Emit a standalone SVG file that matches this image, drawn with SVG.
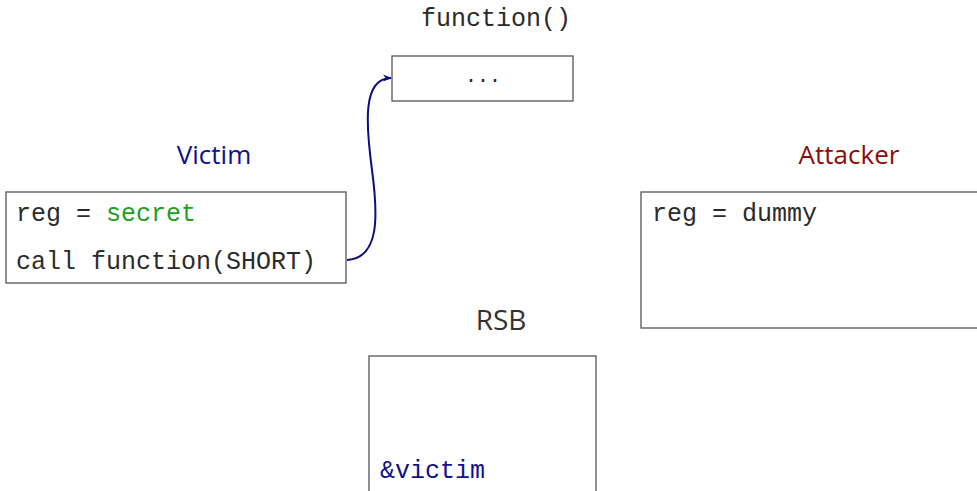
<svg xmlns="http://www.w3.org/2000/svg" width="977" height="491" viewBox="0 0 977 491">
<defs>
<style>
.box{fill:#fff;stroke:#555;stroke-width:1.3}
.mono{font-family:"Liberation Mono","DejaVu Sans Mono",monospace;font-size:25px;fill:#2b2b2b}
.navy{fill:#10108c}
.green{fill:#1f9e1f}
.sans{font-family:"Open Sans","DejaVu Sans",sans-serif;font-size:26px;text-anchor:middle}
.conn{fill:none;stroke:#0d0d80;stroke-width:2}
</style>
<marker id="arr" viewBox="0 0 10 10" refX="9" refY="5" markerWidth="9" markerHeight="9" orient="auto" markerUnits="userSpaceOnUse">
<path d="M0,1 L10,5 L0,9 L3,5 Z" fill="#0d0d80"/>
</marker>
</defs>
<rect width="977" height="491" fill="#fff"/>
<g id="function">
<text class="mono" x="496" y="26" text-anchor="middle">function()</text>
<rect class="box" x="392" y="56" width="181" height="45"/>
<text class="mono" x="483" y="82" text-anchor="middle" style="font-size:20px">...</text>
</g>
<g id="victim">
<text class="sans navy" x="214" y="164">Victim</text>
<rect class="box" x="6" y="192" width="340" height="91"/>
<text class="mono" x="16" y="221">reg = <tspan class="green">secret</tspan></text>
<text class="mono" x="16" y="269">call function(SHORT)</text>
</g>
<g id="attacker">
<text class="sans" x="849" y="164" style="fill:#8b0b0b">Attacker</text>
<rect class="box" x="641" y="192" width="345" height="136"/>
<text class="mono" x="652" y="221">reg = dummy</text>
</g>
<g id="rsb">
<text class="sans" x="501" y="330" style="fill:#333;font-size:28px">RSB</text>
<rect class="box" x="369" y="356" width="227" height="150"/>
<text class="mono navy" x="380" y="478">&amp;victim</text>
</g>
<g id="connectors">
<path class="conn" d="M347,260 C380,258 378,215 372,170 C366,125 362,78 391,78" marker-end="url(#arr)"/>
</g>
</svg>
